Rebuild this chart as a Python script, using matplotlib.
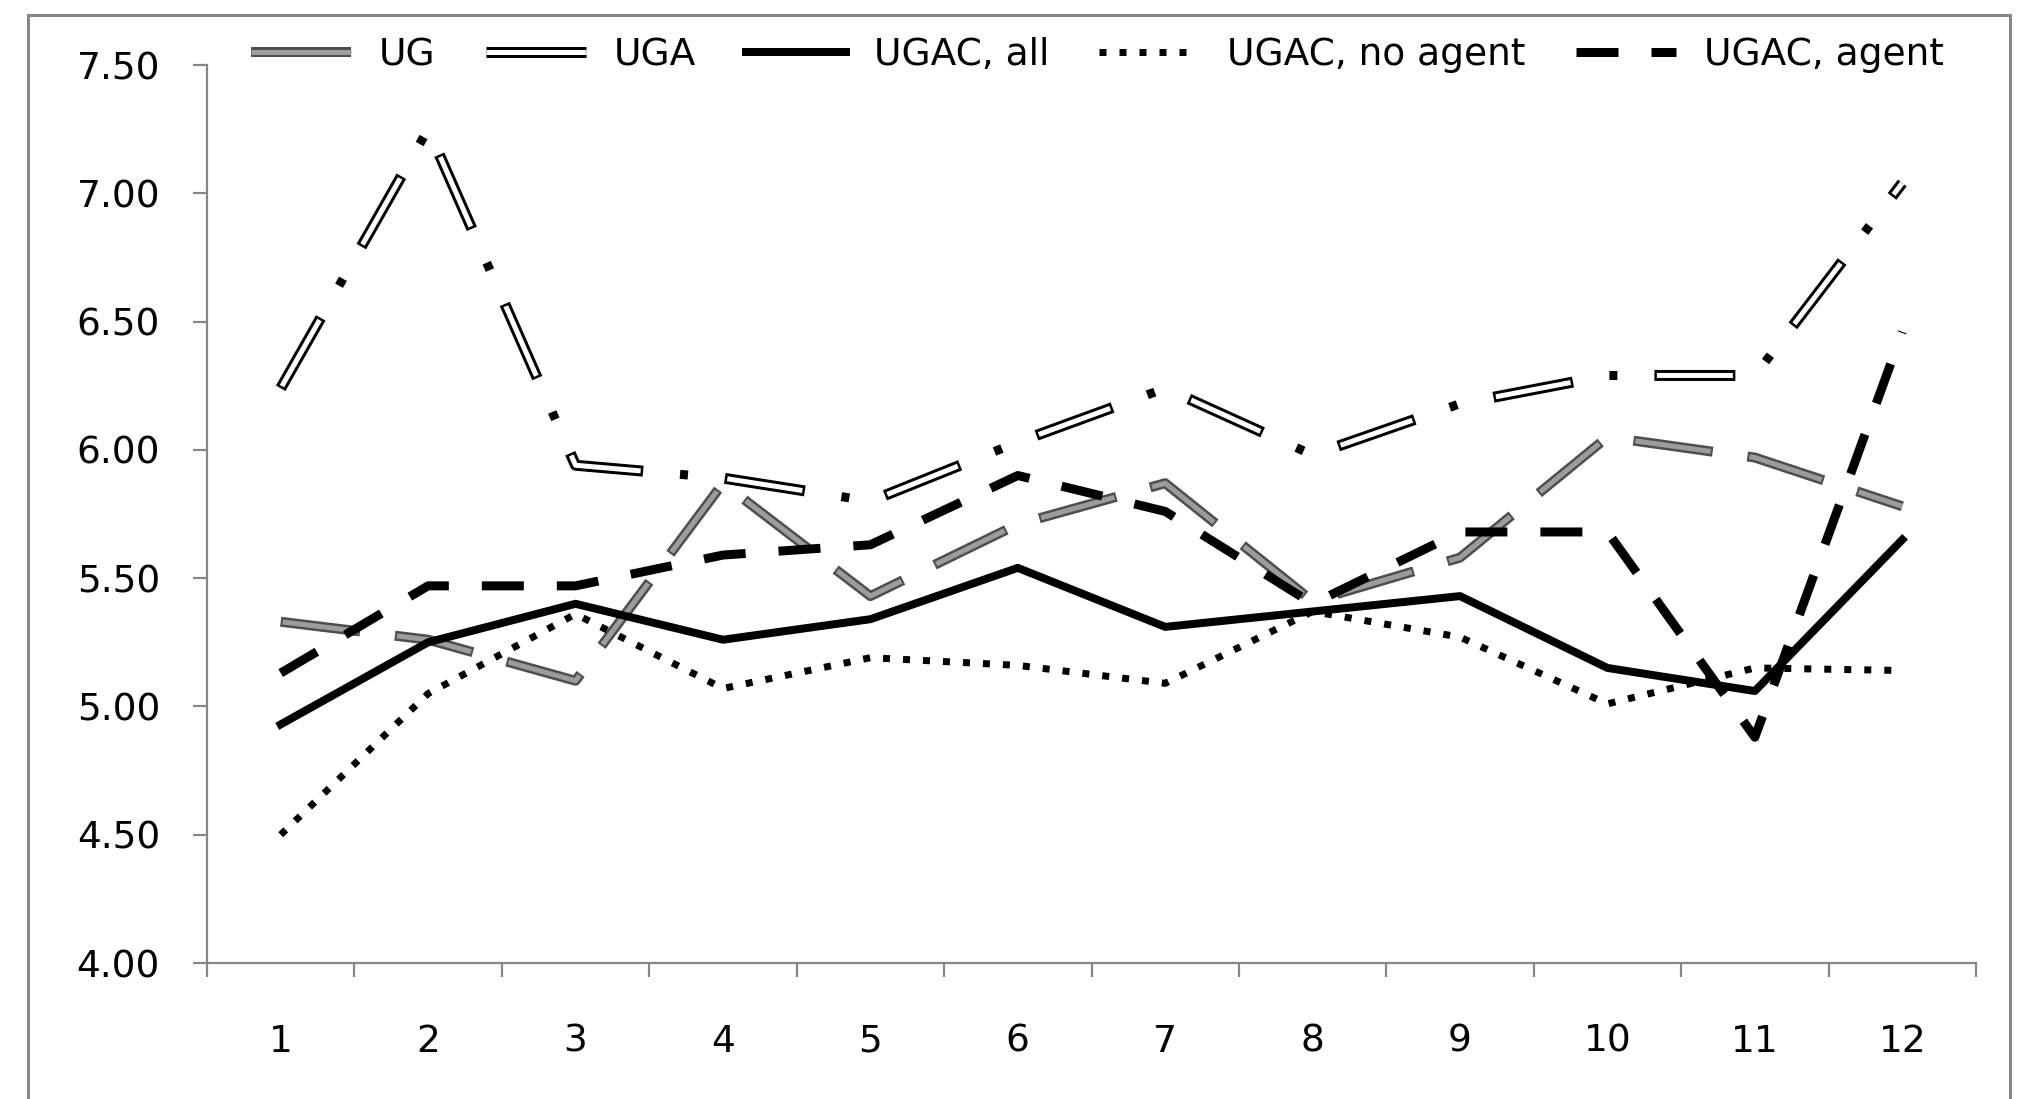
import matplotlib
matplotlib.use("Agg")
import matplotlib.pyplot as plt
import matplotlib.patheffects as pe
from matplotlib.lines import Line2D
from matplotlib.patches import Rectangle
from matplotlib.ticker import FormatStrFormatter, FixedLocator

plt.rcParams['font.family'] = ['DejaVu Sans']

# data
periods = list(range(1, 13))
ug = [5.33, 5.26, 5.10, 5.87, 5.43, 5.71, 5.87, 5.41, 5.58, 6.05, 5.97, 5.78]
uga = [6.24, 7.25, 5.94, 5.89, 5.80, 6.03, 6.24, 5.98, 6.18, 6.29, 6.29, 7.04]
ugac_all = [4.93, 5.25, 5.40, 5.26, 5.34, 5.54, 5.31, 5.37, 5.43, 5.15, 5.06, 5.65]
ugac_no_agent = [4.50, 5.05, 5.36, 5.07, 5.19, 5.16, 5.09, 5.37, 5.27, 5.01, 5.15, 5.14]
ugac_agent = [5.13, 5.47, 5.47, 5.59, 5.63, 5.90, 5.76, 5.40, 5.68, 5.68, 4.88, 6.46]
labels = ["UG", "UGA", "UGAC, all", "UGAC, no agent", "UGAC, agent"]

W, H = 2037, 1099
PX = 72 / 100  # points per pixel
GRAY = "#878787"


def strokes(layers):
    # each layer: (color, width in px, (offset, dash list) in px or None)
    out = []
    for color, width, dashes in layers:
        kw = dict(linewidth=width * PX, foreground=color, capstyle="butt")
        if dashes is not None:
            off, seq = dashes
            kw["dashes"] = {"dash_offset": off * PX, "dash_list": [d * PX for d in seq]}
        out.append(pe.Stroke(**kw))
    return out


UG_OUT, UG_IN = "#4e4e4e", "#9c9c9c"
ug_fx = strokes([(UG_OUT, 10, (0, [80, 35])),
                 (UG_IN, 5, (113, [76, 39]))])
uga_fx = strokes([("black", 11, (0, [81, 82])),
                  ("white", 5, (160.5, [76, 87])),
                  ("black", 9, (45, [8, 155]))])

fig = plt.figure(figsize=(W / 100, H / 100), dpi=100)
ax = fig.add_axes([207 / W, 1 - 963 / H, (1976 - 207) / W, (963 - 65) / H])

ax.plot(periods, ug, color=UG_IN, path_effects=ug_fx)
ax.plot(periods, uga, color="black", path_effects=uga_fx)
ax.plot(periods, ugac_all, color="black", lw=8 * PX, solid_joinstyle="round")
ax.plot(periods, ugac_no_agent, color="black", lw=7 * PX, ls=(0, (1, 13 / 7)))
ax.plot(periods, ugac_agent, color="black", lw=9 * PX, ls=(0, (42 / 9, 33 / 9)))

ax.set_xlim(0.5, 12.5)
ax.set_ylim(4.0, 7.5)
ax.set_yticks([4.0, 4.5, 5.0, 5.5, 6.0, 6.5, 7.0, 7.5])
ax.yaxis.set_major_formatter(FormatStrFormatter("%.2f"))
ax.set_xticks(periods)
ax.xaxis.set_minor_locator(FixedLocator([i + 0.5 for i in range(0, 13)]))

for s in ["top", "right"]:
    ax.spines[s].set_visible(False)
for s in ["left", "bottom"]:
    ax.spines[s].set_color(GRAY)
    ax.spines[s].set_linewidth(2.2 * PX)

ax.tick_params(axis="y", which="major", direction="out", length=14 * PX, width=2.2 * PX,
               color=GRAY, labelsize=27, pad=33 * PX)
ax.tick_params(axis="x", which="major", length=0, labelsize=27, pad=61 * PX)
ax.tick_params(axis="x", which="minor", direction="out", length=14 * PX, width=2.2 * PX, color=GRAY)

# legend entries drawn as short solid samples like the original
handles = [
    Line2D([], [], color=UG_IN, path_effects=strokes([(UG_OUT, 10, None), (UG_IN, 5, None)])),
    Line2D([], [], color="black", path_effects=strokes([("black", 11, None), ("white", 5, None)])),
    Line2D([], [], color="black", lw=8 * PX),
    Line2D([], [], color="black", lw=7 * PX, ls=(0, (1, 13 / 7))),
    Line2D([], [], color="black", lw=9 * PX, ls=(0, (42 / 9, 33 / 9))),
]
fs = 27
em = fs / PX
fig.legend(handles, labels, loc="center left", bbox_to_anchor=(251 / W, 1 - 55 / H),
           ncol=5, frameon=False, fontsize=fs, borderpad=0, borderaxespad=0,
           handlelength=100 / em, handletextpad=28 / em, columnspacing=50 / em)

# chart border (bottom edge is cut off in the original)
fig.add_artist(Rectangle((28 / W, -0.1), (2010 - 28) / W, (H - 15) / H + 0.1,
                         transform=fig.transFigure, fill=False, edgecolor=GRAY,
                         linewidth=3 * PX))

fig.savefig("out.png", dpi=100)
